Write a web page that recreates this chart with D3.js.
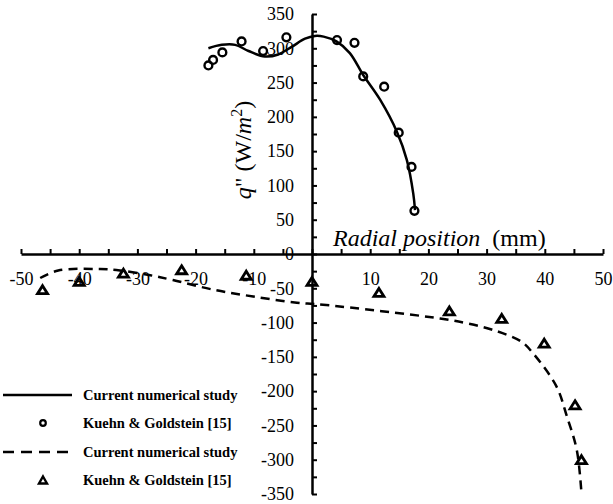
<!DOCTYPE html>
<html>
<head>
<meta charset="utf-8">
<script src="https://cdn.jsdelivr.net/npm/d3@7"></script>
<style>
  body { margin: 0; background: #fff; }
</style>
</head>
<body>
<div id="chart"></div>
<script>
// measured points (Kuehn & Goldstein) - upper set
let circleX = [-17.8, -17.0, -15.4, -12.1, -8.4, -4.4, 4.3, 7.3, 8.8, 12.4, 14.9, 17.1, 17.6];
let circleY = [275, 283, 294, 310, 296, 316, 312, 308, 259, 244, 177, 127, 63];

// numerical curve - upper
let solidX = [-17.8, -15.5, -13.2, -10.9, -8.1, -5.8, -3.5, -1.2, 0.5, 2, 4.2, 6.5, 8.8, 11.7, 14.6, 16.3, 17.4, 17.7];
let solidY = [300, 305, 305, 296, 288, 291, 302, 314, 318, 317, 310, 293, 261, 225, 178, 137, 88, 64];

// measured points - lower set
let triX = [-46.3, -40, -32.4, -22.4, -11.3, 0, 11.5, 23.6, 32.6, 39.9, 45.2, 46.3];
let triY = [-52, -40, -28, -23, -31, -40, -56, -83, -94, -130, -220, -300];

// numerical curve - lower
let dashX = [-46.7, -43.6, -36.4, -33, -27.8, -23.9, -17, -10.1, -2.6, 1.9, 22, 26.6, 31.2, 36, 38, 42, 43.8, 45.5, 46.3];
let dashY = [-35, -24, -22, -24, -31, -38, -52, -62, -71, -74, -94, -101, -111, -128, -145, -193, -237, -286, -349];

let xTicks = d3.range(-50, 51, 5);
let yTicks = d3.range(-350, 351, 25);

let legendLabels = ["Current numerical study", "Kuehn & Goldstein [15]", "Current numerical study", "Kuehn & Goldstein [15]"];

let serif = "'Liberation Serif', 'Times New Roman', Times, serif";

let svgWidth = 613;
let svgHeight = 504;

let svg = d3.select("#chart")
    .append("svg")
    .attr("width", svgWidth)
    .attr("height", svgHeight)
    .attr("font-family", serif);

let x = d3.scaleLinear().domain([-50, 50]).range([21, 603]);
let y = d3.scaleLinear().domain([-350, 350]).range([494, 14]);

// x axis through y = 0
let xAxis = d3.axisBottom(x)
    .tickValues(xTicks)
    .tickSize(-5)
    .tickSizeOuter(0)
    .tickPadding(18)
    .tickFormat(d => (d % 10 === 0 && d !== 0) ? d : "");

let gx = svg.append("g")
    .attr("transform", `translate(0, ${y(0)})`)
    .call(xAxis)
    .attr("font-family", serif);
gx.select(".domain").attr("stroke-width", 2.5);
gx.selectAll(".tick line").attr("stroke-width", 2);
gx.selectAll("text")
    .style("font-family", serif)
    .style("font-size", "18px")
    .attr("fill", "#000");

// y axis through x = 0
let yAxis = d3.axisLeft(y)
    .tickValues(yTicks)
    .tickSize(-5)
    .tickSizeOuter(0)
    .tickPadding(18)
    .tickFormat(d => d % 50 === 0 ? d : "");

let gy = svg.append("g")
    .attr("transform", `translate(${x(0)}, 0)`)
    .call(yAxis)
    .attr("font-family", serif);
gy.select(".domain").attr("stroke-width", 2.5);
gy.selectAll(".tick line").attr("stroke-width", 2);
gy.selectAll("text")
    .style("font-family", serif)
    .style("font-size", "18px")
    .attr("fill", "#000");

// axis titles
let xt = svg.append("text")
    .attr("x", 333)
    .attr("y", 246)
    .style("font-family", serif)
    .style("font-size", "24px");
xt.append("tspan").style("font-style", "italic").text("Radial position");
xt.append("tspan").attr("xml:space", "preserve").text("  (mm)");

let yt = svg.append("text")
    .attr("transform", "translate(251, 150) rotate(-90)")
    .attr("text-anchor", "middle")
    .style("font-family", serif)
    .style("font-size", "24px");
yt.append("tspan").style("font-style", "italic").text("q");
yt.append("tspan").text("\" (W/");
yt.append("tspan").style("font-style", "italic").text("m");
yt.append("tspan").attr("dy", -9).style("font-size", "16px").text("2");
yt.append("tspan").attr("dy", 9).text(")");

// curves
let line = d3.line()
    .x(d => x(d[0]))
    .y(d => y(d[1]))
    .curve(d3.curveCatmullRom.alpha(0.5));

svg.append("path")
    .datum(solidX.map((v, i) => [v, solidY[i]]))
    .attr("d", line)
    .attr("fill", "none")
    .attr("stroke", "#000")
    .attr("stroke-width", 2.5);

svg.append("path")
    .datum(dashX.map((v, i) => [v, dashY[i]]))
    .attr("d", line)
    .attr("fill", "none")
    .attr("stroke", "#000")
    .attr("stroke-width", 2.5)
    .attr("stroke-dasharray", "9,6");

// markers
svg.selectAll("circle.pt")
    .data(circleX.map((v, i) => [v, circleY[i]]))
    .enter()
    .append("circle")
    .attr("class", "pt")
    .attr("cx", d => x(d[0]))
    .attr("cy", d => y(d[1]))
    .attr("r", 3.9)
    .attr("fill", "none")
    .attr("stroke", "#000")
    .attr("stroke-width", 2.4);

function triPath(cx, cy, w, h) {
    return `M${cx},${cy - h / 2}L${cx + w / 2},${cy + h / 2}L${cx - w / 2},${cy + h / 2}Z`;
}

svg.selectAll("path.tri")
    .data(triX.map((v, i) => [v, triY[i]]))
    .enter()
    .append("path")
    .attr("class", "tri")
    .attr("d", d => triPath(x(d[0]), y(d[1]), 10, 8))
    .attr("fill", "none")
    .attr("stroke", "#000")
    .attr("stroke-width", 2.8);

// legend
let legendY = [395, 423, 452, 480];
let lg = svg.append("g");

lg.append("line").attr("x1", 3).attr("x2", 72).attr("y1", legendY[0]).attr("y2", legendY[0])
    .attr("stroke", "#000").attr("stroke-width", 2.5);
lg.append("circle").attr("cx", 43).attr("cy", legendY[1]).attr("r", 2.8)
    .attr("fill", "none").attr("stroke", "#000").attr("stroke-width", 2.2);
lg.append("line").attr("x1", 3).attr("x2", 72).attr("y1", legendY[2]).attr("y2", legendY[2])
    .attr("stroke", "#000").attr("stroke-width", 2.5).attr("stroke-dasharray", "11,7");
lg.append("path").attr("d", triPath(43, legendY[3], 8, 7))
    .attr("fill", "none").attr("stroke", "#000").attr("stroke-width", 2.4);

lg.selectAll("text")
    .data(legendLabels)
    .enter()
    .append("text")
    .attr("x", 83)
    .attr("y", (d, i) => legendY[i] + 5)
    .style("font-family", serif)
    .style("font-size", "14.5px")
    .style("font-weight", "bold")
    .text(d => d);
</script>
</body>
</html>
